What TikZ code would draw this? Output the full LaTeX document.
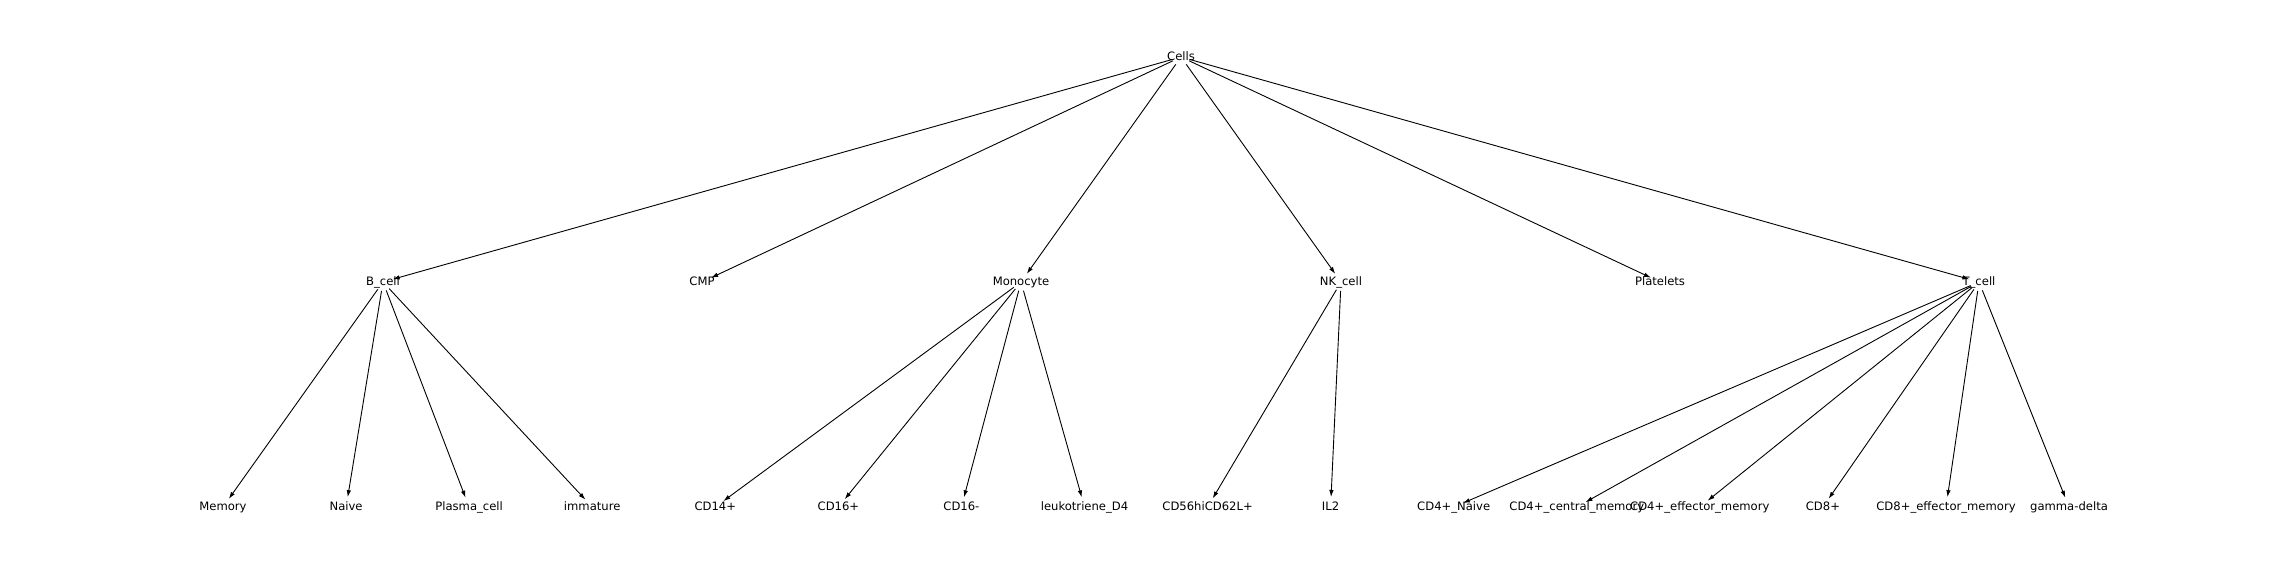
\documentclass[tikz,border=0pt]{standalone}
\usepackage{fontspec}
\setmainfont{DejaVu Sans}
\usetikzlibrary{arrows.meta}
\begin{document}
\begin{tikzpicture}[x=1pt,y=-1pt,
  lbl/.style={inner sep=0pt,text height=8.6pt,text depth=2.4pt,font=\fontsize{11.6}{14}\selectfont},
  edge/.style={line width=0.9pt,-{Latex[length=7pt,width=4.5pt]},shorten >=10pt,shorten <=9pt}]
\useasboundingbox[fill=white] (0,0) rectangle (2272,578);
% root
\node[lbl] (cells) at (1181,57) {Cells};
% level 2
\node[lbl] (bcell) at (383,282) {B\_cell};
\node[lbl] (cmp) at (702,282) {CMP};
\node[lbl] (mono) at (1021,282) {Monocyte};
\node[lbl] (nk) at (1341,282) {NK\_cell};
\node[lbl] (plt) at (1660,282) {Platelets};
\node[lbl] (tcell) at (1979,282) {T\_cell};
% level 3
\node[lbl] (mem) at (223,507) {Memory};
\node[lbl] (naive) at (346.1,507) {Naive};
\node[lbl] (plasma) at (469.1,507) {Plasma\_cell};
\node[lbl] (imm) at (592.2,507) {immature};
\node[lbl] (cd14) at (715.3,507) {CD14+};
\node[lbl] (cd16p) at (838.4,507) {CD16+};
\node[lbl] (cd16m) at (961.4,507) {CD16-};
\node[lbl] (leuk) at (1084.5,507) {leukotriene\_D4};
\node[lbl] (cd56) at (1207.6,507) {CD56hiCD62L+};
\node[lbl] (il2) at (1330.6,507) {IL2};
\node[lbl] (cd4n) at (1453.7,507) {CD4+\_Naive};
\node[lbl] (cd4c) at (1576.8,507) {CD4+\_central\_memory};
\node[lbl] (cd4e) at (1699.8,507) {CD4+\_effector\_memory};
\node[lbl] (cd8) at (1822.9,507) {CD8+};
\node[lbl] (cd8e) at (1946,507) {CD8+\_effector\_memory};
\node[lbl] (gd) at (2069,507) {gamma-delta};
% edges
\foreach \t in {bcell,cmp,mono,nk,plt,tcell}
  \draw[edge] (cells.center) -- (\t.center);
\foreach \t in {mem,naive,plasma,imm}
  \draw[edge] (bcell.center) -- (\t.center);
\foreach \t in {cd14,cd16p,cd16m,leuk}
  \draw[edge] (mono.center) -- (\t.center);
\foreach \t in {cd56,il2}
  \draw[edge] (nk.center) -- (\t.center);
\foreach \t in {cd4n,cd4c,cd4e,cd8,cd8e,gd}
  \draw[edge] (tcell.center) -- (\t.center);
\end{tikzpicture}
\end{document}
